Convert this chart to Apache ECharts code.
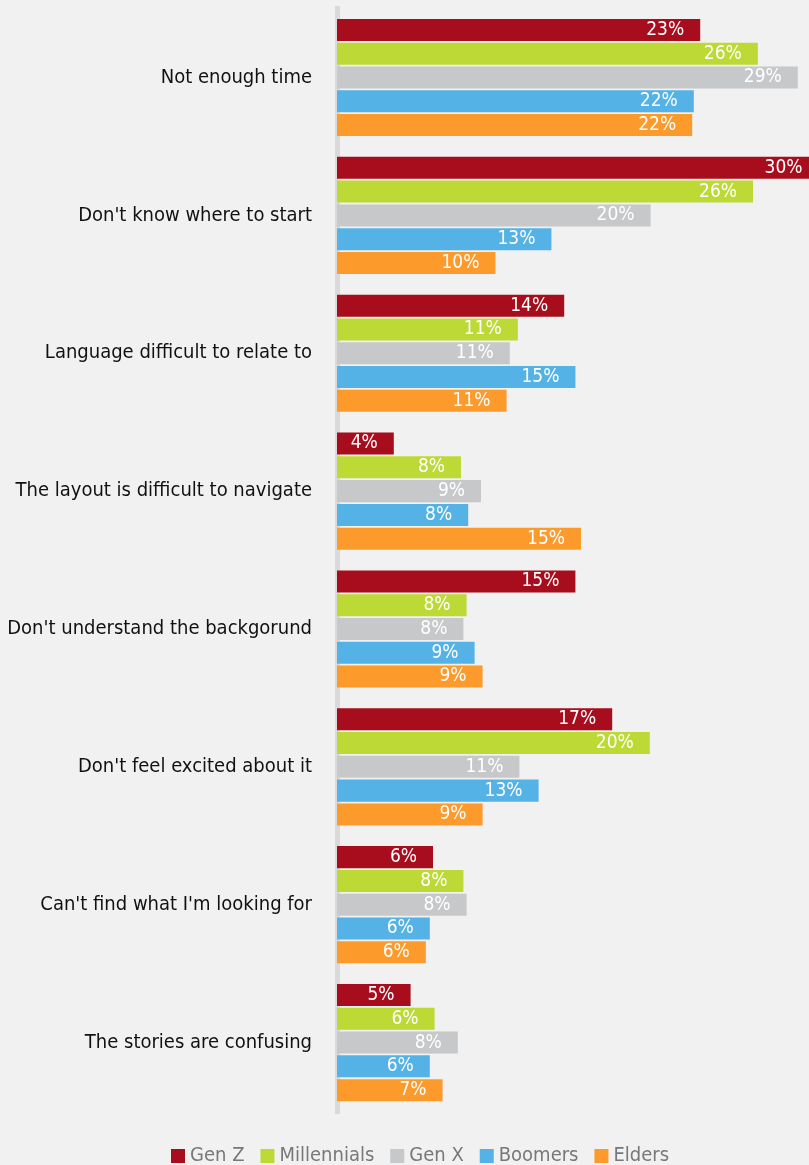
<!DOCTYPE html>
<html>
<head>
<meta charset="utf-8">
<script src="https://cdn.jsdelivr.net/npm/echarts@6/dist/echarts.min.js"></script>
<style>
  html, body { margin: 0; padding: 0; background: #f1f1f1; }
  #main { width: 809px; height: 1165px; }
</style>
</head>
<body>
<div id="main"></div>
<script>
// data
const categories = [
  'Not enough time',
  "Don't know where to start",
  'Language difficult to relate to',
  'The layout is difficult to navigate',
  "Don't understand the backgorund",
  "Don't feel excited about it",
  "Can't find what I'm looking for",
  'The stories are confusing'
]
const seriesNames = ['Gen Z', 'Millennials', 'Gen X', 'Boomers', 'Elders']
const genZ = [22.7, 30.1, 14.2, 3.55, 14.9, 17.2, 6.0, 4.6]
const millennials = [26.3, 26.0, 11.3, 7.75, 8.1, 19.55, 7.9, 6.1]
const genX = [28.8, 19.6, 10.8, 9.0, 7.9, 11.4, 8.1, 7.55]
const boomers = [22.3, 13.4, 14.9, 8.2, 8.6, 12.6, 5.8, 5.8]
const elders = [22.2, 9.9, 10.6, 15.25, 9.1, 9.1, 5.55, 6.6]

const colors = ['#a70d1d', '#bcd936', '#c7c8ca', '#54b2e6', '#fc9a2c']
const font = '"Liberation Sans Narrow", "DejaVu Sans Condensed", sans-serif'

const chart = echarts.init(document.getElementById('main'))

// one series per generation
const makeSeries = (name, data, i) => {
  return {
    name: name,
    type: 'bar',
    data: data,
    barGap: '8%',
    barCategoryGap: '15%',
    itemStyle: { color: colors[i] },
    label: {
      show: true,
      position: 'insideRight',
      distance: 16,
      color: '#fff',
      fontSize: 19,
      fontFamily: font,
      formatter: p => Math.round(p.value) + '%'
    }
  }
}

const option = {
  backgroundColor: '#f1f1f1',
  animation: false,
  grid: {
    left: 337,
    width: 496,
    top: 8.6,
    height: 1102.9,
    outerBoundsMode: 'none',
    containLabel: false
  },
  legend: {
    data: seriesNames,
    left: 166,
    top: 1141,
    icon: 'rect',
    itemWidth: 14,
    itemHeight: 14,
    itemGap: 16,
    textStyle: {
      color: '#77787b',
      fontSize: 20,
      fontFamily: font
    }
  },
  xAxis: {
    type: 'value',
    min: 0,
    max: 31,
    show: false
  },
  yAxis: {
    type: 'category',
    data: categories,
    inverse: true,
    offset: 2.5,
    axisLine: {
      show: true,
      lineStyle: { color: '#d9d9d9', width: 5, cap: 'square' }
    },
    axisTick: { show: false },
    axisLabel: {
      margin: 22.5,
      color: '#111',
      fontSize: 20,
      fontFamily: font
    }
  },
  series: [genZ, millennials, genX, boomers, elders].map((d, i) => makeSeries(seriesNames[i], d, i))
}

chart.setOption(option)
</script>
</body>
</html>
